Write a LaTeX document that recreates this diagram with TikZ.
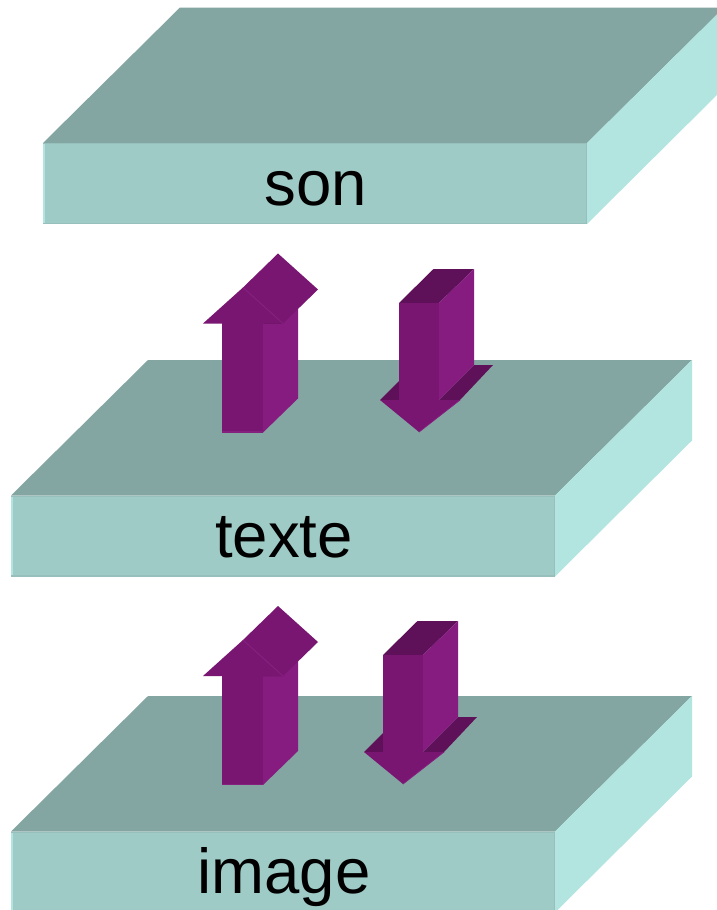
\documentclass[tikz,border=0pt]{standalone}
\usepackage{fontspec}
\setmainfont{Liberation Sans}
\definecolor{slabtop}{HTML}{84A6A3}
\definecolor{slabfront}{HTML}{9FCBC7}
\definecolor{slabside}{HTML}{B2E5DF}
\definecolor{slabedge}{HTML}{97C0BC}
\definecolor{arrowfront}{HTML}{791672}
\definecolor{arrowside}{HTML}{861C80}
\definecolor{arrowdark}{HTML}{5E1058}
\definecolor{arrowedge}{HTML}{86207F}
\tikzset{
  slablabel/.style={font=\fontsize{63.5}{70}\selectfont,text=black,anchor=base,inner sep=0pt},
}
% slab: #1 front-left x, #2 front-top y, #3 label, #4 node name, #5 baseline offset
\newcommand{\slab}[5]{%
  \begin{scope}[shift={(#1,#2)}]
    \fill[slabtop] (0,0) -- (137,-135.5) -- (681,-135.5) -- (544,0) -- cycle;
    \fill[slabside] (544,0) -- (681,-135.5) -- (681,-55) -- (544,81) -- cycle;
    \fill[slabfront] (0,0) rectangle (544,81);
    \fill[slabside] (0,0) rectangle (1.5,81);
    \fill[slabedge] (0,0) rectangle (544,1.2);
    \fill[slabedge] (0,79.5) rectangle (544,81);
    \fill[slabedge] (542.5,0) rectangle (544,81);
    \node[slablabel] (#4) at (273,#5) {#3};
  \end{scope}}
% up arrow, origin at shaft front bottom-left
\newcommand{\uparrowshape}[2]{%
  \begin{scope}[shift={(#1,#2)}]
    \fill[arrowside] (41,0) -- (76,-34) -- (76,-124) -- (41,-109) -- cycle;
    \fill[arrowfront] (0,0) rectangle (41,-110);
    \fill[arrowedge] (0,-1.5) rectangle (41,0);
    \fill[arrowfront] (21,-145) -- (56,-179) -- (96,-143) -- (61,-109) -- cycle;
    \fill[arrowdark] (41,-109) -- (61,-109) -- (58,-112) -- (41,-112) -- cycle;
    \fill[arrowfront] (-19,-109) -- (21,-145) -- (61,-109) -- cycle;
    \draw[arrowedge,line width=0.8pt] (21,-145) -- (61,-109);
  \end{scope}}
% down arrow, origin at shaft front top-left
\newcommand{\downarrowshape}[2]{%
  \begin{scope}[shift={(#1,#2)}]
    \fill[arrowdark] (-19,97) -- (0,78) -- (20,97) -- cycle;
    \fill[arrowdark] (40,97) -- (75,62) -- (94,62) -- (61,97) -- cycle;
    \fill[arrowdark] (0,0) -- (34.5,-34) -- (75,-34) -- (40,0) -- cycle;
    \fill[arrowside] (40,0) -- (75,-34) -- (75,62) -- (40,97) -- cycle;
    \fill[arrowfront] (0,0) rectangle (40,98);
    \fill[arrowfront] (-19,97) -- (61,97) -- (20,129) -- cycle;
    \draw[arrowedge,line width=0.8pt] (61,97) -- (20,129);
  \end{scope}}
\begin{document}
\begin{tikzpicture}[x=1pt,y=-1pt]
  \useasboundingbox (0,0) rectangle (717,910);
  \clip (0,0) rectangle (717,910);
  \fill[white] (0,0) rectangle (717,910);
  \slab{43}{143}{son}{son}{62}
  \slab{11}{495.5}{texte}{texte}{62}
  \slab{11}{831.5}{image}{image}{62}
  \uparrowshape{222}{432.5}
  \downarrowshape{399}{303}
  \uparrowshape{222}{785}
  \downarrowshape{383}{655}
\end{tikzpicture}
\end{document}
